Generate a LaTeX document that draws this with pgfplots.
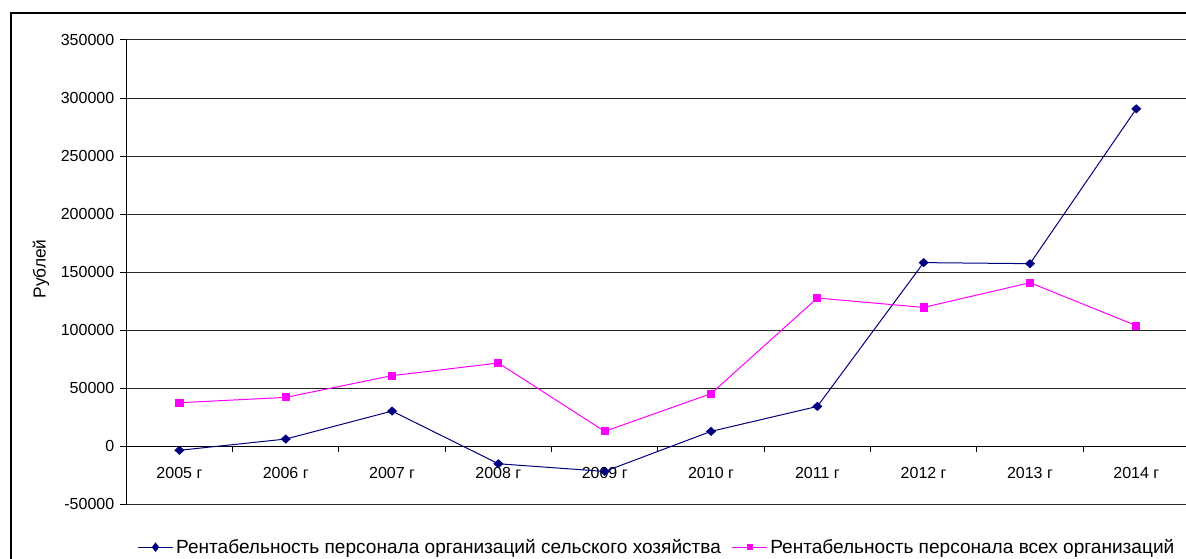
\documentclass[border=0pt]{standalone}
\usepackage{pgfplots}
\pgfplotsset{compat=1.18}
\usepackage{fontspec}
\setmainfont{Liberation Sans}
\definecolor{navyc}{RGB}{0,0,128}
\definecolor{magc}{RGB}{255,0,255}
\begin{document}
\begin{tikzpicture}[font=\fontsize{12}{14}\selectfont]
\fill[white] (0,0) rectangle (889.5pt,418.5pt);
\begin{axis}[
  at={(94.7pt,40.3pt)}, anchor=south west,
  scale only axis, width=797.4pt, height=348.2pt,
  xmin=-0.5, xmax=9.5, ymin=-50000, ymax=350000,
  axis x line=middle, axis y line=left,
  axis line style={-, black, line width=0.75pt},
  ytick={-50000,0,50000,100000,150000,200000,250000,300000,350000},
  ymajorgrids, grid style={black!85, line width=0.75pt},
  scaled y ticks=false,
  yticklabel style={/pgf/number format/fixed, /pgf/number format/1000 sep={}, xshift=-1pt},
  /pgf/number format/assume math mode=true,
  tick align=outside,
  major tick length=4.5pt, minor tick length=4.5pt,
  xtick={0,1,2,3,4,5,6,7,8,9},
  xticklabels={2005 г,2006 г,2007 г,2008 г,2009 г,2010 г,2011 г,2012 г,2013 г,2014 г},
  major x tick style={draw=none},
  minor xtick={0.5,1.5,2.5,3.5,4.5,5.5,6.5,7.5,8.5},
  minor x tick style={black, line width=0.75pt},
  xticklabel style={anchor=north, yshift=-8pt},
  tick style={black, line width=0.75pt},
  clip=false,
  legend columns=2,
  legend style={at={(0.4995,-0.0925)}, anchor=center, draw=none, fill=none,
    font=\fontsize{14.3}{16}\selectfont,
    /tikz/every even column/.append style={column sep=6pt}},
  legend image code/.code={\draw[mark repeat=2,mark phase=2, mark options={scale=0.7}] plot coordinates {(0cm,0cm) (0.46cm,0cm) (0.92cm,0cm)};},
]
\addplot[navyc, line width=0.75pt, mark=diamond*, mark size=4.3pt, mark options={solid, fill=navyc, yscale=0.68}]
  coordinates {(0,-3500) (1,6200) (2,30300) (3,-15100) (4,-21700) (5,12800) (6,34300) (7,158200) (8,157300) (9,290700)};
\addlegendentry{Рентабельность персонала организаций сельского хозяйства}
\addplot[magc, line width=0.75pt, mark=square*, mark size=2.7pt, mark options={solid, fill=magc}]
  coordinates {(0,37500) (1,42100) (2,60800) (3,71700) (4,12800) (5,45300) (6,127700) (7,119600) (8,140900) (9,103900)};
\addlegendentry{Рентабельность персонала всех организаций}
\end{axis}
\node[rotate=90, font=\fontsize{13}{15}\selectfont] at (30.75pt,216.75pt) {Рублей};
\draw[line width=1.1pt] (8.25pt,-2pt) -- (8.25pt,408.75pt) -- (892pt,408.75pt);
\pgfresetboundingbox
\useasboundingbox (0,0) rectangle (889.5pt,418.5pt);
\end{tikzpicture}
\end{document}
